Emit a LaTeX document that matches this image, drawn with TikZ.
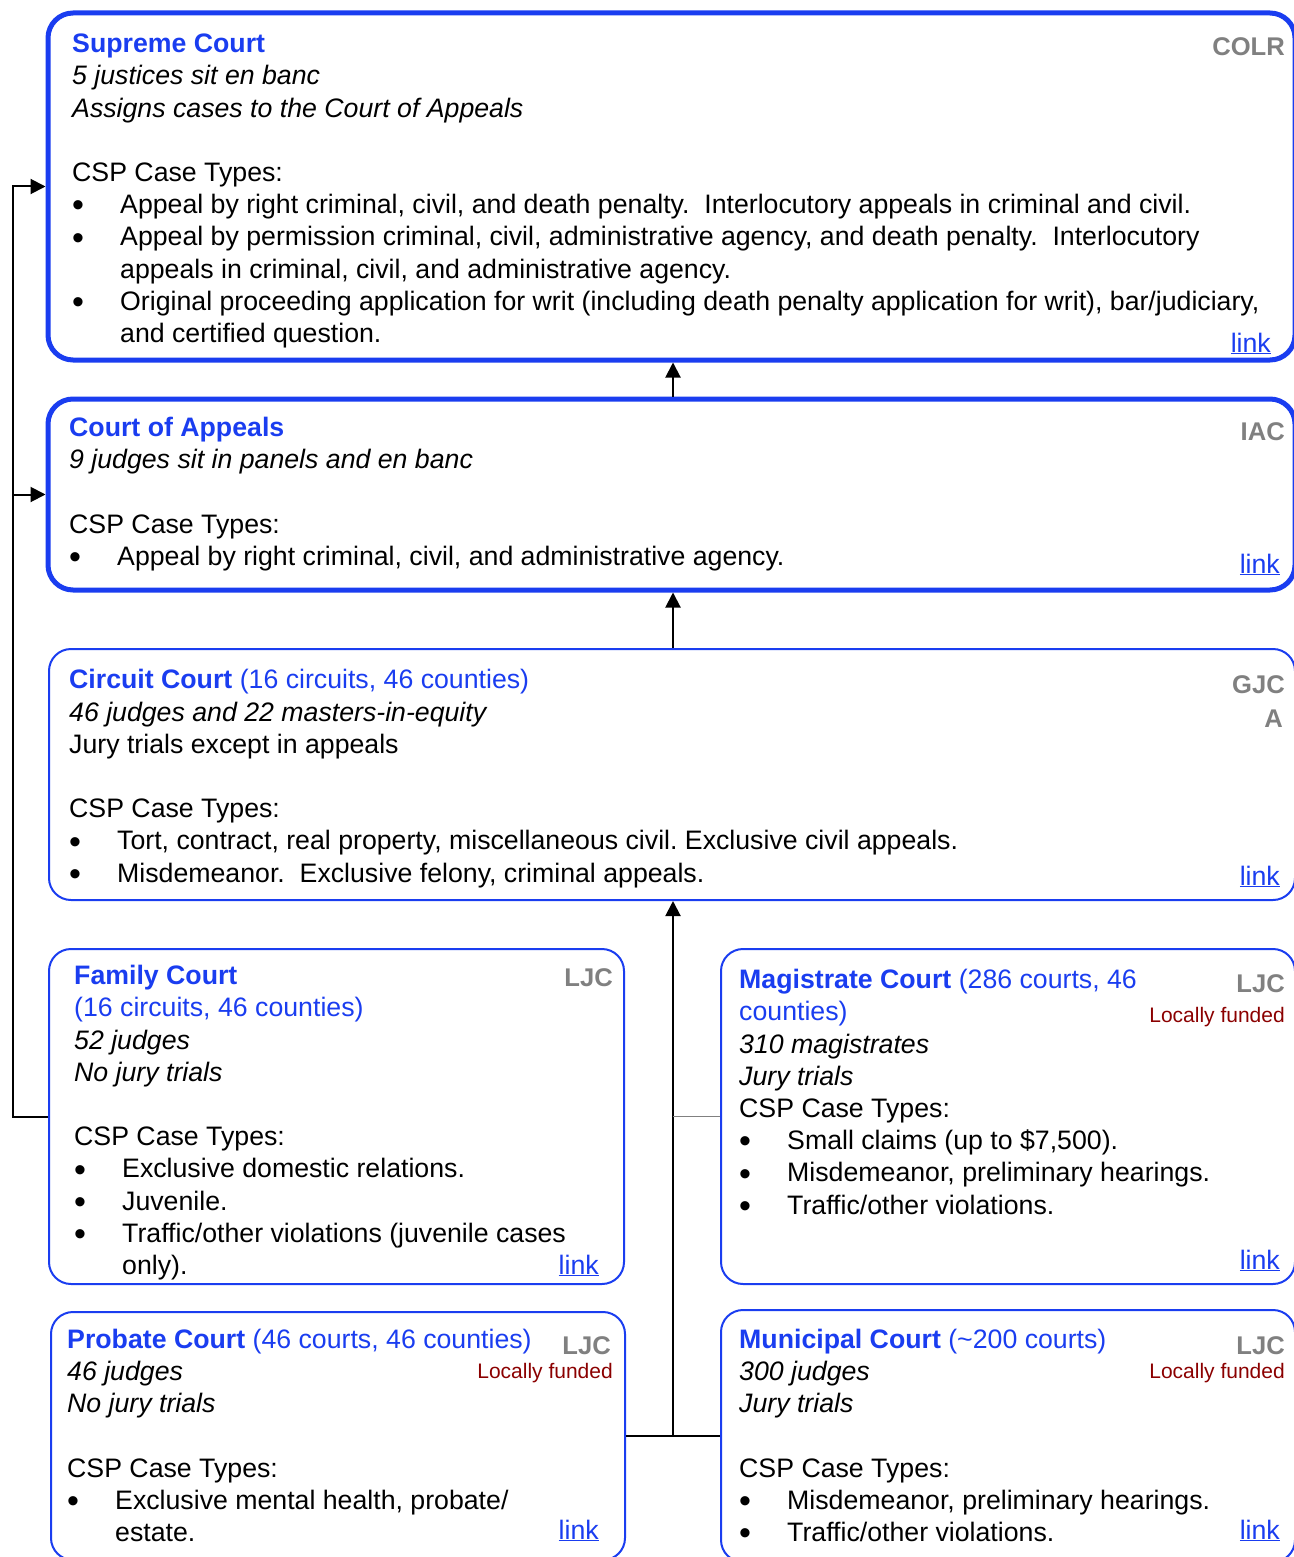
\documentclass[tikz,border=0pt]{standalone}
\usepackage{fontspec}
\setmainfont{Liberation Sans}
\usetikzlibrary{arrows.meta}
\definecolor{cblue}{HTML}{1A3DF0}
\definecolor{cgray}{HTML}{808080}
\definecolor{cred}{HTML}{8B0000}
\frenchspacing
\newcommand\bx{\makebox[48pt][l]{\raisebox{-3.2pt}{\fontsize{34}{32}\selectfont\textbullet}}}
\newcommand\ix{\hspace*{48pt}}
\newcommand\ttl[1]{\textcolor{cblue}{\textbf{#1}}}
\newcommand\sub[1]{\textcolor{cblue}{#1}}
\newcommand\lnk{\textcolor{cblue}{\underline{link}}}
\begin{document}
\begin{tikzpicture}[x=1pt,y=-1pt,
 courtbox/.style={draw=cblue, anchor=north west, inner sep=0pt},
 thickbox/.style={courtbox, line width=5pt, rounded corners=25pt},
 thinbox/.style={courtbox, line width=2pt, rounded corners=22pt},
 body/.style={anchor=base west, inner sep=0pt, align=left, font=\fontsize{26.7}{32.2}\selectfont\frenchspacing},
 tag/.style={anchor=base east, inner sep=0pt, align=right, text=cgray, font=\fontsize{25.6}{34}\selectfont\bfseries},
 fund/.style={anchor=base east, inner sep=0pt, text=cred, font=\fontsize{21}{25}\selectfont},
 linktxt/.style={anchor=base east, inner sep=0pt, font=\fontsize{26.7}{32}\selectfont},
 conn/.style={line width=2pt, draw=black},
 arr/.style={conn, -{Triangle[length=15pt,width=15pt]}},
]
\useasboundingbox (0,0) rectangle (1293,1557);
% boxes
\node[thickbox, minimum width=1247pt, minimum height=347pt] (sc) at (45.5,10.5) {};
\node[thickbox, minimum width=1247pt, minimum height=191pt] (coa) at (45.5,396.5) {};
\node[thinbox, minimum width=1246pt, minimum height=251pt] (cc) at (48,648) {};
\node[thinbox, minimum width=575pt, minimum height=335pt] (fc) at (48,948) {};
\node[thinbox, minimum width=574pt, minimum height=335pt] (mg) at (720,948) {};
\node[thinbox, minimum width=574pt, minimum height=248pt] (pc) at (50,1311) {};
\node[thinbox, minimum width=574pt, minimum height=252pt] (mc) at (720,1309) {};
% connectors
\coordinate (tx) at (673,0);
\coordinate (lx) at (13,0);
\draw[arr] (tx |- coa.north) -- (tx |- sc.south);
\draw[arr] (tx |- cc.north) -- (tx |- coa.south);
\draw[arr] (tx |- pc.east) -- (tx |- cc.south);
\draw[conn] (pc.east) -- (mc.west);
\draw[line width=1.5pt, draw=cgray] (mg.west) -- (tx |- mg.west);
\draw[arr] (fc.west) -| (lx |- sc.west) -- (sc.west);
\draw[arr] (lx |- coa.west) -- (coa.west);
% Supreme Court (anchor = baseline of last line)
\node[body] (sct) at (72,342.5) {\ttl{Supreme Court}\\
\textit{5 justices sit en banc}\\
\textit{Assigns cases to the Court of Appeals}\\[32.2pt]
CSP Case Types:\\
\bx Appeal by right criminal, civil, and death penalty.\ \ Interlocutory appeals in criminal and civil.\\
\bx Appeal by permission criminal, civil, administrative agency, and death penalty.\ \ Interlocutory\\
\ix appeals in criminal, civil, and administrative agency.\\
\bx Original proceeding application for writ (including death penalty application for writ), bar/judiciary,\\
\ix and certified question.};
\node[tag] (sctag) at (1285,56) {COLR};
\node[linktxt] (sclink) at (1271,352) {\lnk};
% Court of Appeals
\node[body] (coat) at (69,565.5) {\ttl{Court of Appeals}\\
\textit{9 judges sit in panels and en banc}\\[32.2pt]
CSP Case Types:\\
\bx Appeal by right criminal, civil, and administrative agency.};
\node[tag] (coatag) at (1285,440) {IAC};
\node[linktxt] (coalink) at (1280,573) {\lnk};
% Circuit Court
\node[body] (cct) at (69,882) {\ttl{Circuit Court} \sub{(16 circuits, 46 counties)}\\
\textit{46 judges and 22 masters-in-equity}\\
Jury trials except in appeals\\[32.2pt]
CSP Case Types:\\
\bx Tort, contract, real property, miscellaneous civil. Exclusive civil appeals.\\
\bx Misdemeanor.\ \ Exclusive felony, criminal appeals.};
\node[tag] (cctag) at (1285,693) {GJC};
\node[tag] (cctag2) at (1283,727) {A};
\node[linktxt] (cclink) at (1280,885) {\lnk};
% Family Court
\node[body] (fct) at (74,1274.5) {\ttl{Family Court}\\
\sub{(16 circuits, 46 counties)}\\
\textit{52 judges}\\
\textit{No jury trials}\\[32.2pt]
CSP Case Types:\\
\bx Exclusive domestic relations.\\
\bx Juvenile.\\
\bx Traffic/other violations (juvenile cases\\
\ix only).};
\node[tag] (fctag) at (613,986) {LJC};
\node[linktxt] (fclink) at (599,1274) {\lnk};
% Magistrate Court
\node[body] (mgt) at (739,1214) {\ttl{Magistrate Court} \sub{(286 courts, 46}\\
\sub{counties)}\\
\textit{310 magistrates}\\
\textit{Jury trials}\\
CSP Case Types:\\
\bx Small claims (up to \$7,500).\\
\bx Misdemeanor, preliminary hearings.\\
\bx Traffic/other violations.};
\node[tag] (mgtag) at (1285,992) {LJC};
\node[fund] (mgfund) at (1285,1022) {Locally funded};
\node[linktxt] (mglink) at (1280,1269) {\lnk};
% Probate Court
\node[body] (pct) at (67,1541.5) {\ttl{Probate Court} \sub{(46 courts, 46 counties)}\\
\textit{46 judges}\\
\textit{No jury trials}\\[32.2pt]
CSP Case Types:\\
\bx Exclusive mental health, probate/\\
\ix estate.};
\node[tag] (pctag) at (611,1354) {LJC};
\node[fund] (pcfund) at (613,1378) {Locally funded};
\node[linktxt] (pclink) at (599,1539) {\lnk};
% Municipal Court
\node[body] (mct) at (739,1541.5) {\ttl{Municipal Court} \sub{(\textasciitilde200 courts)}\\
\textit{300 judges}\\
\textit{Jury trials}\\[32.2pt]
CSP Case Types:\\
\bx Misdemeanor, preliminary hearings.\\
\bx Traffic/other violations.};
\node[tag] (mctag) at (1285,1354) {LJC};
\node[fund] (mcfund) at (1285,1378) {Locally funded};
\node[linktxt] (mclink) at (1280,1539) {\lnk};
\end{tikzpicture}
\end{document}
